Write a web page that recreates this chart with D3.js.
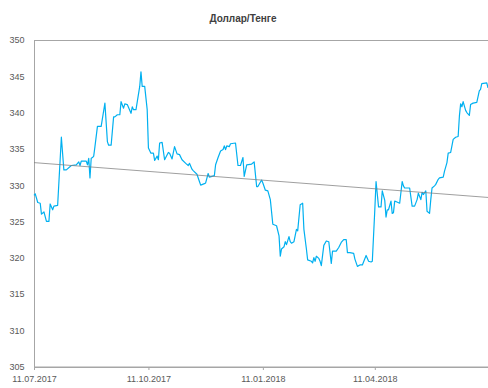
<!DOCTYPE html>
<html lang="ru">
<head>
<meta charset="utf-8">
<script src="https://d3js.org/d3.v7.min.js"></script>
<style>
  body { margin: 0; background: #fff; }
  text { font-family: "Liberation Sans", Arial, sans-serif; fill: #595959; }
</style>
</head>
<body>
<div id="chart"></div>
<script>
// chart data
var title = "Доллар/Тенге";
var dates = [
  "2017-07-11","2017-07-12","2017-07-14","2017-07-16","2017-07-17","2017-07-19","2017-07-21","2017-07-23",
  "2017-07-24","2017-07-26","2017-07-27","2017-07-30","2017-08-02","2017-08-04","2017-08-06","2017-08-10",
  "2017-08-14","2017-08-16","2017-08-17","2017-08-18","2017-08-22","2017-08-23","2017-08-24","2017-08-25",
  "2017-08-26","2017-08-27","2017-08-28","2017-08-29","2017-08-31","2017-09-03","2017-09-06","2017-09-08",
  "2017-09-09","2017-09-11","2017-09-13","2017-09-14","2017-09-16","2017-09-18","2017-09-19","2017-09-21",
  "2017-09-22","2017-09-24","2017-09-27","2017-09-28","2017-09-29","2017-10-01","2017-10-04","2017-10-05",
  "2017-10-06","2017-10-08","2017-10-10","2017-10-11","2017-10-13","2017-10-15","2017-10-16","2017-10-18",
  "2017-10-19","2017-10-20","2017-10-22","2017-10-24","2017-10-27","2017-10-28","2017-10-30","2017-11-01",
  "2017-11-03","2017-11-05","2017-11-07","2017-11-10","2017-11-12","2017-11-13","2017-11-15","2017-11-16",
  "2017-11-19","2017-11-21","2017-11-22","2017-11-25","2017-11-26","2017-11-28","2017-11-29","2017-12-03",
  "2017-12-04","2017-12-06","2017-12-08","2017-12-10","2017-12-11","2017-12-12","2017-12-13","2017-12-15",
  "2017-12-16","2017-12-20","2017-12-22","2017-12-24","2017-12-26","2017-12-27","2017-12-29","2018-01-02",
  "2018-01-04","2018-01-06","2018-01-07","2018-01-10","2018-01-11","2018-01-13","2018-01-15","2018-01-17",
  "2018-01-19","2018-01-22","2018-01-24","2018-01-25","2018-01-26","2018-01-28","2018-01-29","2018-01-30",
  "2018-02-01","2018-02-02","2018-02-03","2018-02-05","2018-02-07","2018-02-08","2018-02-10","2018-02-12",
  "2018-02-13","2018-02-15","2018-02-16","2018-02-19","2018-02-20","2018-02-21","2018-02-22","2018-02-23",
  "2018-02-25","2018-02-26","2018-02-27","2018-03-01","2018-03-03","2018-03-05","2018-03-07","2018-03-08",
  "2018-03-11","2018-03-13","2018-03-15","2018-03-17","2018-03-19","2018-03-20","2018-03-22","2018-03-25",
  "2018-03-26","2018-03-28","2018-03-30","2018-04-01","2018-04-04","2018-04-06","2018-04-08","2018-04-09",
  "2018-04-11","2018-04-12","2018-04-14","2018-04-16","2018-04-17","2018-04-19","2018-04-20","2018-04-21",
  "2018-04-22","2018-04-24","2018-04-25","2018-04-26","2018-04-27","2018-05-01","2018-05-03","2018-05-04",
  "2018-05-05","2018-05-09","2018-05-11","2018-05-13","2018-05-15","2018-05-16","2018-05-18","2018-05-19",
  "2018-05-20","2018-05-22","2018-05-23","2018-05-25","2018-05-26","2018-05-27","2018-05-29","2018-05-30",
  "2018-06-01","2018-06-02","2018-06-05","2018-06-06","2018-06-08","2018-06-09","2018-06-11","2018-06-13",
  "2018-06-15","2018-06-17","2018-06-18","2018-06-19","2018-06-20","2018-06-21","2018-06-23","2018-06-24",
  "2018-06-26","2018-06-27","2018-06-29","2018-07-02","2018-07-04","2018-07-05","2018-07-06","2018-07-10",
  "2018-07-11"
];
var rates = [
  328.6,328.8,327.6,327.5,326.0,326.3,325.0,325.0,
  327.4,326.6,327.1,327.2,336.6,332.1,332.1,332.7,
  332.8,333.2,332.7,333.3,333.3,332.8,333.7,331.0,
  333.7,333.8,334.0,335.3,338.1,338.1,341.3,336.0,
  335.5,335.5,339.4,339.4,339.7,339.7,341.5,340.6,
  341.2,341.1,339.9,340.8,340.4,340.4,343.6,345.6,
  343.6,343.6,340.4,335.1,334.4,334.4,333.4,334.0,
  333.5,335.8,335.9,333.5,334.5,334.4,333.6,335.3,
  334.3,334.2,333.5,333.0,332.7,333.0,332.2,332.0,
  331.5,330.5,330.0,330.2,330.3,331.6,331.1,331.3,
  332.8,333.8,334.7,334.9,335.4,334.9,335.4,335.3,
  335.7,335.8,332.7,332.7,333.8,331.2,332.8,332.9,
  333.2,329.8,329.8,330.7,330.3,329.3,329.2,328.0,
  324.6,324.4,323.0,320.2,321.2,321.5,322.2,321.8,
  322.9,322.2,322.0,322.2,323.9,323.7,327.3,327.5,
  323.9,321.2,319.7,319.5,319.3,320.0,319.5,320.2,
  319.9,319.5,318.9,321.7,322.3,322.2,319.2,320.9,
  320.9,321.4,322.1,322.5,322.5,320.7,320.7,320.6,
  319.8,318.8,319.0,319.0,320.3,319.5,319.4,319.5,
  326.6,330.5,327.0,327.0,329.2,327.9,325.6,326.6,
  326.6,327.8,326.1,326.2,327.8,327.5,330.5,329.9,
  329.6,329.6,327.1,327.1,328.0,328.9,328.0,329.0,
  328.7,329.2,326.4,326.1,328.0,329.6,329.9,330.1,
  330.8,331.0,331.1,331.9,333.1,334.4,334.5,336.3,
  336.6,336.7,339.5,341.2,340.8,341.5,340.3,340.0,
  339.6,341.1,341.3,341.4,343.0,343.2,344.0,344.1,
  343.4
];
// linear trend, start and end values
var trendDates = ["2017-07-11", "2018-07-11"];
var trendValues = [333.1, 328.3];
var yTicks = [305, 310, 315, 320, 325, 330, 335, 340, 345, 350];
var xTicks = ["2017-07-11", "2017-10-11", "2018-01-11", "2018-04-11"];

var width = 488, height = 388;
var margin = {top: 40, right: 0, bottom: 21, left: 34};

var parse = d3.timeParse("%Y-%m-%d");
var fmt = d3.timeFormat("%d.%m.%Y");

var series = dates.map(function(d, i) { return {date: parse(d), value: rates[i]}; });
var trend = trendDates.map(function(d, i) { return {date: parse(d), value: trendValues[i]}; });

var svg = d3.select("#chart").append("svg")
    .attr("width", width)
    .attr("height", height);

var x = d3.scaleTime()
    .domain([parse("2017-07-11"), parse("2018-07-11")])
    .range([margin.left, margin.left + 454]);

var y = d3.scaleLinear()
    .domain([305, 350])
    .range([height - margin.bottom - 0.5, margin.top]);

// title
svg.append("text")
    .attr("x", 243)
    .attr("y", 22)
    .attr("text-anchor", "middle")
    .style("font-size", "10px")
    .style("font-weight", "bold")
    .style("fill", "#404040")
    .text(title);

// plot frame
svg.append("rect")
    .attr("x", margin.left + 0.5)
    .attr("y", y(350) + 0.5)
    .attr("width", 470)
    .attr("height", y(305) - y(350))
    .attr("fill", "none")
    .attr("stroke", "#a6a6a6")
    .attr("stroke-width", 1);

// y axis
var yAxis = d3.axisLeft(y)
    .tickValues(yTicks)
    .tickSize(0)
    .tickPadding(10);

svg.append("g")
    .attr("class", "y axis")
    .attr("transform", "translate(" + (margin.left + 0.5) + ",0)")
    .call(yAxis)
    .call(function(g) { g.select(".domain").remove(); })
    .selectAll("text")
    .style("font-size", "9px")
    .style("font-family", "'Liberation Sans', Arial, sans-serif")
    .style("fill", "#595959");

// x axis
var xAxis = d3.axisBottom(x)
    .tickValues(xTicks.map(parse))
    .tickFormat(fmt)
    .tickSizeInner(3)
    .tickSizeOuter(0)
    .tickPadding(6);

var gx = svg.append("g")
    .attr("class", "x axis")
    .attr("transform", "translate(0," + (y(305) + 0.5) + ")")
    .call(xAxis);
gx.select(".domain").attr("stroke", "#a6a6a6");
gx.selectAll(".tick line").attr("stroke", "#a6a6a6");
gx.selectAll("text")
    .style("font-size", "9px")
    .style("font-family", "'Liberation Sans', Arial, sans-serif")
    .style("fill", "#595959");

var line = d3.line()
    .x(function(d) { return x(d.date); })
    .y(function(d) { return y(d.value); });

// rate line
svg.append("path")
    .datum(series)
    .attr("fill", "none")
    .attr("stroke", "#00b0f0")
    .attr("stroke-width", 1.2)
    .attr("stroke-linejoin", "round")
    .attr("d", line);

// trend line
svg.append("path")
    .datum(trend)
    .attr("fill", "none")
    .attr("stroke", "#7f7f7f")
    .attr("stroke-width", 0.75)
    .attr("d", line);
</script>
</body>
</html>
